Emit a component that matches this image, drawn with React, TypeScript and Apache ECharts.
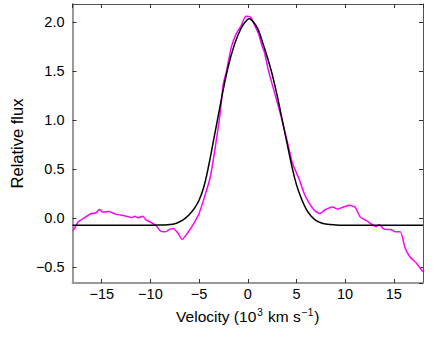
import React, { useEffect, useRef } from "react";
import * as echarts from "echarts";

const observedVelocity = [
  -18, -17.9, -17.4, -16.8, -16.07, -15.6, -15.25, -14.9, -14.25, -13.6, -12.6, -11.9, -11.6, -11.3,
  -10.8, -10.45, -9.95, -9.45, -8.96, -8.46, -7.97, -7.64, -7.14, -6.75, -6.15, -5.65, -5.0, -4.33,
  -3.84, -3.34, -2.85, -2.51, -2.18, -1.69, -1.19, -0.7, -0.2, 0.3, 0.7, 1.12, 1.46, 1.72, 2.11, 2.78,
  3.44, 3.94, 4.6, 5.26, 5.75, 6.25, 6.91, 7.41, 7.9, 8.73, 9.23, 9.72, 10.39, 10.8, 11.04, 11.54,
  12.03, 12.37, 12.87, 13.2, 13.5, 14.0, 14.68, 15.18, 15.67, 16.17, 16.67, 17.33, 17.83, 18,
];
const observedFlux = [
  -0.13, -0.125, -0.04, 0.0, 0.045, 0.05, 0.085, 0.06, 0.065, 0.038, 0.02, 0.004, 0.017, 0.0,
  0.017, -0.02, -0.047, -0.075, -0.136, -0.143, -0.115, -0.108, -0.16, -0.22, -0.15, -0.075, 0.045, 0.25,
  0.42, 0.72, 1.06, 1.37, 1.5, 1.745, 1.88, 1.96, 2.06, 2.05, 1.97, 1.88, 1.76, 1.69, 1.51, 1.27,
  1.03, 0.83, 0.555, 0.4, 0.26, 0.16, 0.07, 0.045, 0.08, 0.11, 0.089, 0.106, 0.13, 0.12, 0.11, 0.01,
  -0.02, -0.04, -0.075, -0.09, -0.068, -0.115, -0.12, -0.143, -0.143, -0.31, -0.4, -0.465, -0.53, -0.55,
];

const modelVelocity = [
  -18, -10, -9, -8, -7.5, -7, -6.5, -6, -5.5, -5, -4.5, -4, -3.5, -3, -2.5, -2, -1.5, -1, -0.5, 0, 0.15,
  0.5, 1, 1.5, 2, 2.5, 3, 3.5, 4, 4.5, 5, 5.5, 6, 6.5, 7, 7.5, 8, 9, 10, 18,
];
const modelFlux = [
  -0.075, -0.075, -0.074, -0.068, -0.06, -0.04, -0.01, 0.035, 0.095, 0.18, 0.32, 0.54, 0.8, 1.06, 1.32,
  1.55, 1.73, 1.87, 1.97, 2.03, 2.035, 2.01, 1.94, 1.8, 1.645, 1.47, 1.26, 1.02, 0.78, 0.54, 0.34, 0.2,
  0.09, 0.02, -0.025, -0.05, -0.063, -0.072, -0.075, -0.075,
];

const FONT = "'Liberation Sans', Arial, Helvetica, sans-serif";
const fmt = (v: number, d: number) => {
  const s = v.toFixed(d);
  return s.startsWith("-") ? "\u2212" + s.slice(1) : s;
};

export default function App() {
  const ref = useRef<HTMLDivElement>(null);
  useEffect(() => {
    if (!ref.current) return;
    const chart = echarts.init(ref.current, null, { renderer: "svg" });
    const obs = observedVelocity.map((x, i) => [x, observedFlux[i]]);
    const mod = modelVelocity.map((x, i) => [x, modelFlux[i]]);
    const tickIn = { show: true, inside: true, length: 4, lineStyle: { color: "#333", width: 1 } };
    chart.setOption({
      animation: false,
      backgroundColor: "#fff",
      textStyle: { fontFamily: FONT },
      grid: { left: 61, right: 13, top: 4, bottom: 67, containLabel: false },
      xAxis: [
        {
          type: "value",
          min: -18,
          max: 18,
          splitNumber: 7,
          position: "bottom",
          axisLine: { show: true, onZero: false, lineStyle: { color: "#999", width: 2 } },
          axisTick: tickIn,
          splitLine: { show: false },
          axisLabel: {
            color: "#000",
            fontSize: 14.5,
            fontFamily: FONT,
            margin: 3,
            showMinLabel: false,
            showMaxLabel: false,
            formatter: (v: number) => fmt(v, 0),
          },
          name: "{a|Velocity (10}{s|3}{a| km s}{s|\u22121}{a|)}",
          nameLocation: "middle",
          nameGap: 24,
          nameTextStyle: {
            rich: {
              a: { fontSize: 15.5, color: "#000", fontFamily: FONT },
              s: { fontSize: 10, color: "#000", fontFamily: FONT, padding: [0, 1, 9, 1] },
            },
          },
        },
        {
          type: "value",
          min: -18,
          max: 18,
          splitNumber: 7,
          position: "top",
          axisLine: { show: true, onZero: false, lineStyle: { color: "#555", width: 1 } },
          axisTick: tickIn,
          axisLabel: { show: false },
          splitLine: { show: false },
        },
      ],
      yAxis: [
        {
          type: "value",
          min: -0.666,
          max: 2.186,
          splitNumber: 5,
          position: "left",
          axisLine: { show: true, onZero: false, lineStyle: { color: "#999", width: 2 } },
          axisTick: tickIn,
          splitLine: { show: false },
          axisLabel: {
            color: "#000",
            fontSize: 14.5,
            fontFamily: FONT,
            margin: 8,
            showMinLabel: false,
            showMaxLabel: false,
            formatter: (v: number) => fmt(v, 1),
          },
          name: "Relative flux",
          nameLocation: "middle",
          nameRotate: 90,
          nameGap: 36,
          nameTextStyle: { fontSize: 16.5, color: "#000", fontFamily: FONT },
        },
        {
          type: "value",
          min: -0.666,
          max: 2.186,
          splitNumber: 5,
          position: "right",
          axisLine: { show: true, onZero: false, lineStyle: { color: "#555", width: 1 } },
          axisTick: tickIn,
          axisLabel: { show: false },
          splitLine: { show: false },
        },
      ],
      series: [
        {
          type: "line",
          data: obs,
          showSymbol: false,
          smooth: 0.2,
          lineStyle: { color: "#ff00ff", width: 1.5 },
          xAxisIndex: 0,
          yAxisIndex: 0,
          z: 2,
        },
        {
          type: "line",
          data: mod,
          showSymbol: false,
          smooth: 0.4,
          lineStyle: { color: "#000", width: 1.5 },
          xAxisIndex: 0,
          yAxisIndex: 0,
          z: 3,
        },
      ],
    });
    return () => chart.dispose();
  }, []);
  return (
    <div
      ref={ref}
      style={{ position: "fixed", left: 0, top: 0, width: 436, height: 350, background: "#fff" }}
    />
  );
}
